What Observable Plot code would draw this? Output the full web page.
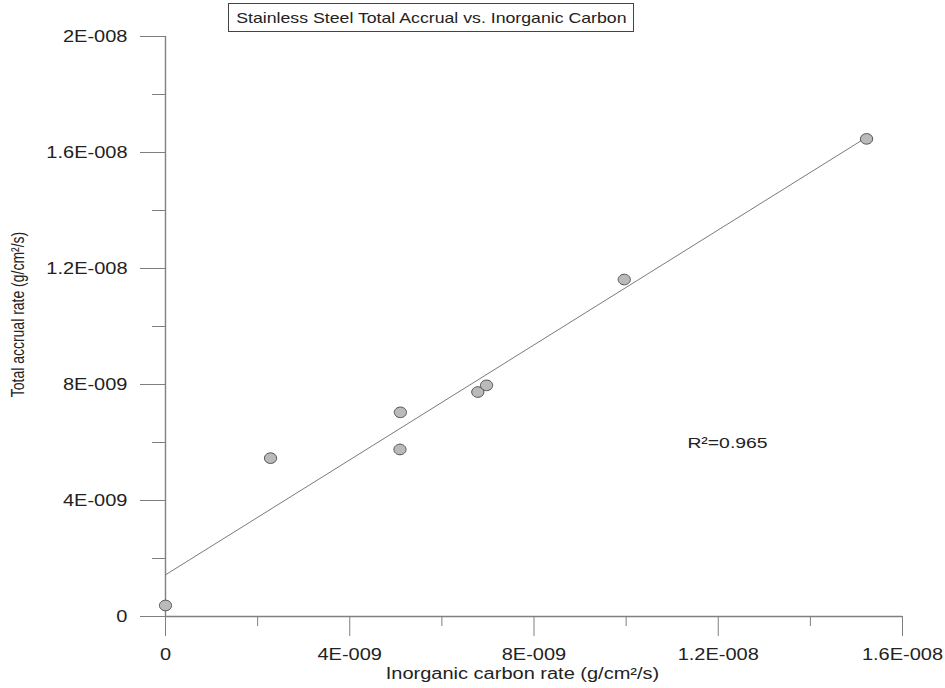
<!DOCTYPE html>
<html><head><meta charset="utf-8">
<script src="https://cdn.jsdelivr.net/npm/d3@7"></script>
<script src="https://cdn.jsdelivr.net/npm/@observablehq/plot@0.6"></script>
<style>
body{margin:0;background:#fff;}
#wrap{position:relative;width:945px;height:688px;}
#title{position:absolute;left:228px;top:3px;width:404px;height:27px;border:1px solid #444;font:15px "Liberation Sans",Arial,sans-serif;color:#222;display:flex;align-items:center;justify-content:center;background:#fff;z-index:2;}
#title span{display:inline-block;transform:scaleX(1.18);white-space:nowrap;}
</style></head><body>
<div id="wrap"><div id="title"><span>Stainless Steel Total Accrual vs. Inorganic Carbon</span></div></div>
<script>
// data
const inorganicCarbon = [0, 2.28e-9, 5.09e-9, 5.10e-9, 6.78e-9, 6.97e-9, 9.96e-9, 15.22e-9];
const totalAccrual    = [0.38e-9, 5.46e-9, 5.76e-9, 7.04e-9, 7.74e-9, 7.97e-9, 11.62e-9, 16.47e-9];

const xTicks = [0, 4e-9, 8e-9, 1.2e-8, 1.6e-8];
const xTickLabels = ["0", "4E-009", "8E-009", "1.2E-008", "1.6E-008"];
const xMinorTicks = [2e-9, 6e-9, 1e-8, 1.4e-8];
const yTicks = [0, 4e-9, 8e-9, 1.2e-8, 1.6e-8, 2e-8];
const yTickLabels = ["0", "4E-009", "8E-009", "1.2E-008", "1.6E-008", "2E-008"];
const yMinorTicks = [2e-9, 6e-9, 1e-8, 1.4e-8, 1.8e-8];

const xLabel = "Inorganic carbon rate (g/cm²/s)";
const yLabel = "Total accrual rate (g/cm²/s)";
const annotation = [{x: 11.33e-9, y: 5.97e-9, text: "R²=0.965"}];

const data = inorganicCarbon.map((x, i) => ({x, y: totalAccrual[i]}));

const axisColor = "#808080";
const ellipse = {
  draw(ctx, size) {
    const r = Math.sqrt(size / Math.PI), rx = r * 1.15, ry = r, k = 0.5523;
    ctx.moveTo(rx, 0);
    ctx.bezierCurveTo(rx, ry * k, rx * k, ry, 0, ry);
    ctx.bezierCurveTo(-rx * k, ry, -rx, ry * k, -rx, 0);
    ctx.bezierCurveTo(-rx, -ry * k, -rx * k, -ry, 0, -ry);
    ctx.bezierCurveTo(rx * k, -ry, rx, -ry * k, rx, 0);
    ctx.closePath();
  }
};

const chart = Plot.plot({
  width: 945, height: 688,
  marginLeft: 165, marginRight: 43, marginTop: 36, marginBottom: 72,
  style: {fontFamily: '"Liberation Sans", Arial, sans-serif', fontSize: "16px", color: "#222", background: "#fff"},
  x: {domain: [0, 1.6e-8]},
  y: {domain: [0, 2e-8]},
  marks: [
    Plot.axisX(xTicks, {tickSize: 20, tickPadding: 12, stroke: axisColor, fontSize: 16,
      tickFormat: d => xTickLabels[xTicks.indexOf(d)], label: null}),
    Plot.axisX(xMinorTicks, {tickSize: 10, stroke: axisColor, tickFormat: () => "", label: null}),
    Plot.axisY(yTicks, {tickSize: 25, tickPadding: 13, stroke: axisColor, fontSize: 16,
      tickFormat: d => yTickLabels[yTicks.indexOf(d)], label: null}),
    Plot.axisY(yMinorTicks, {tickSize: 13, stroke: axisColor, tickFormat: () => "", label: null}),
    Plot.ruleX([0], {stroke: axisColor, strokeWidth: 1.4}),
    Plot.ruleY([0], {stroke: axisColor, strokeWidth: 1.4}),
    Plot.linearRegressionY(data, {x: "x", y: "y", stroke: "#7a7a7a", strokeWidth: 1, ci: 0}),
    Plot.dot(data, {x: "x", y: "y", r: 5.3, symbol: ellipse, fill: "#bababa", stroke: "#4f4f4f", strokeWidth: 1}),
    Plot.text(annotation, {x: "x", y: "y", text: "text", textAnchor: "start", fontSize: 15.5, fill: "#222"}),
    Plot.text([xLabel], {frameAnchor: "bottom", dy: 57, dx: -11.5, textAnchor: "middle", lineAnchor: "middle", fontSize: 16, fill: "#222"}),
    Plot.text([yLabel], {frameAnchor: "left", rotate: -90, dx: -147, dy: -12, textAnchor: "middle", lineAnchor: "middle", fontSize: 14, fill: "#222"})
  ]
});

// the reference is horizontally stretched; widen the glyphs the same way
chart.querySelectorAll("text").forEach(t => {
  const old = t.getAttribute("transform") || "";
  const xa = t.getAttribute("x");
  let extra = "";
  if (xa != null && !isNaN(+xa)) { extra = ` translate(${+xa},0)`; t.removeAttribute("x"); }
  const rotated = /rotate\(/.test(old);
  t.setAttribute("transform", old + extra + (rotated ? " scale(1,1.25)" : " scale(1.25,1)"));
});

document.getElementById("wrap").appendChild(chart);
chart.style.position = "absolute";
chart.style.left = "0";
chart.style.top = "0";
</script>
</body></html>
